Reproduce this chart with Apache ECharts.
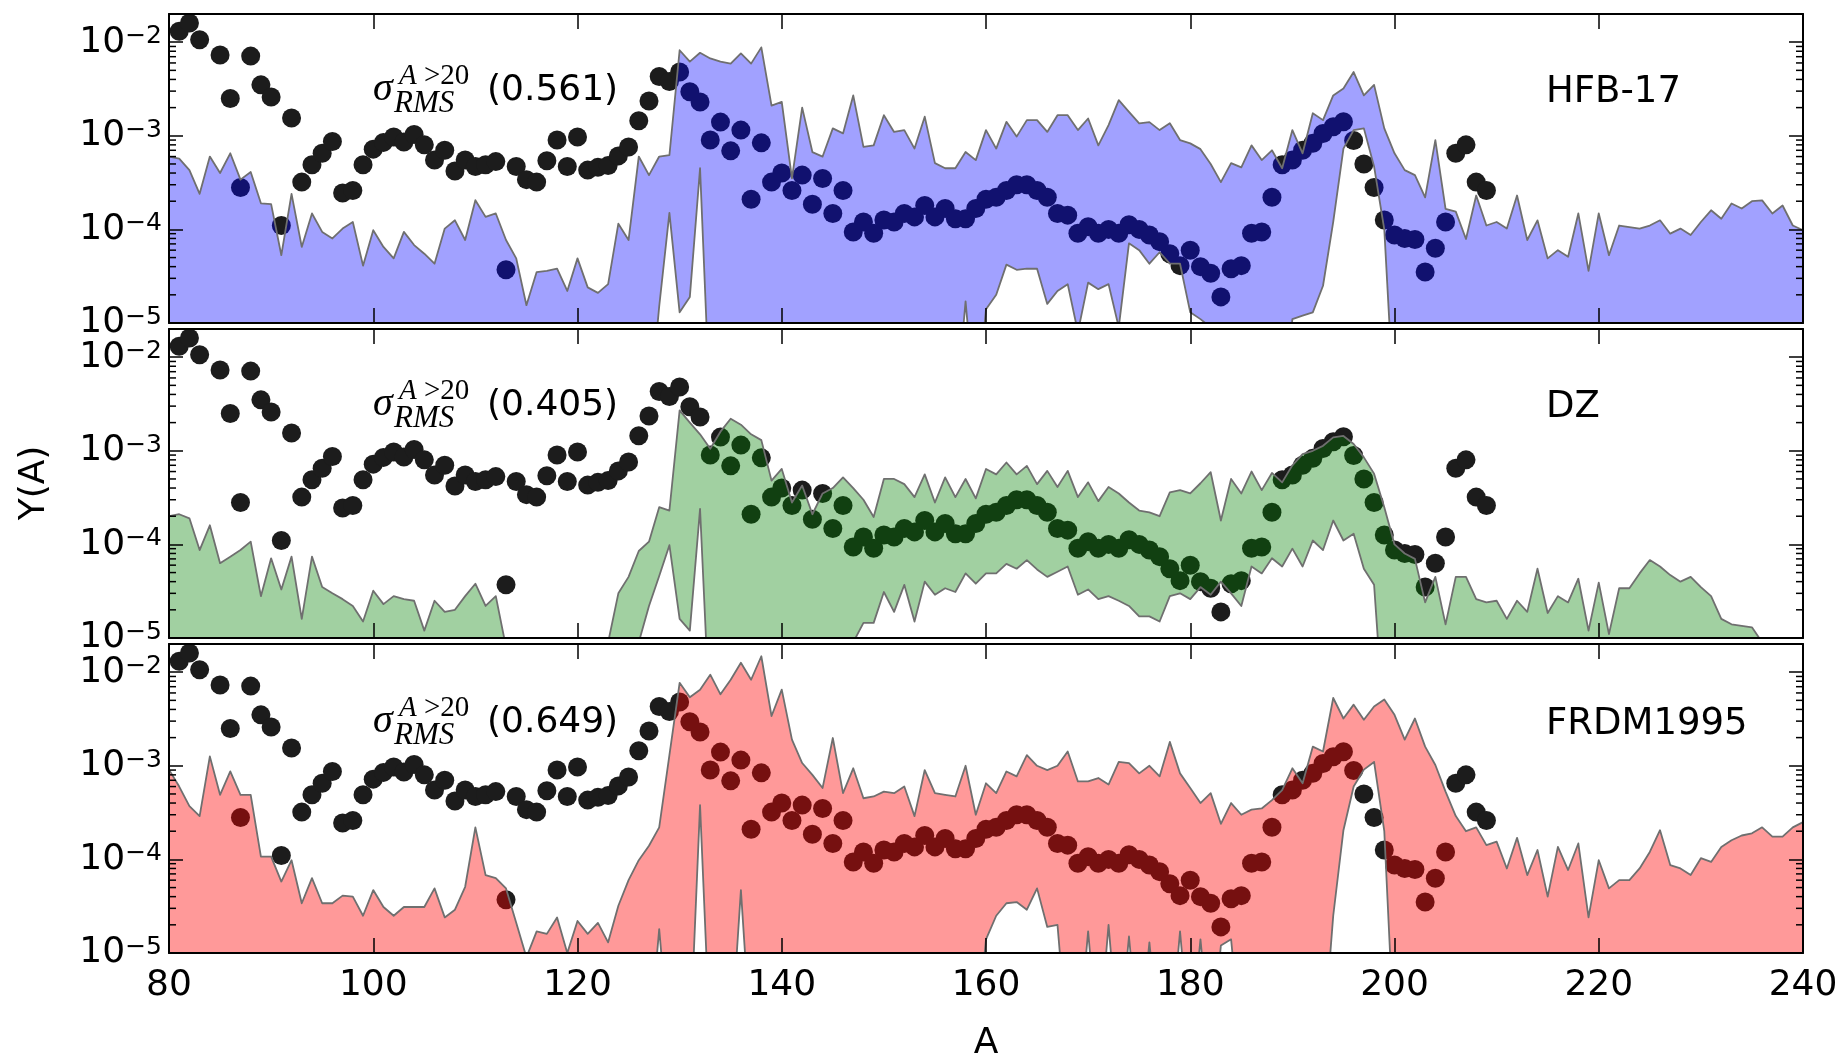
<!DOCTYPE html>
<html>
<head>
<meta charset="utf-8">
<script src="https://cdn.jsdelivr.net/npm/echarts@6/dist/echarts.min.js"></script>
<style>
html,body{margin:0;padding:0;background:#fff;}
#chart{width:1839px;height:1060px;}
</style>
</head>
<body>
<div id="chart"></div>
<script>
// ---------------- DATA ----------------
const L = 1e-6; // below the plotted range (axis floor is 1e-5)

const massA = [
  80,81,82,83,84,85,86,87,88,89,90,91,92,93,94,95,96,97,98,99,
  100,101,102,103,104,105,106,107,108,109,110,111,112,113,114,115,116,117,118,119,
  120,121,122,123,124,125,126,127,128,129,130,131,132,133,134,135,136,137,138,139,
  140,141,142,143,144,145,146,147,148,149,150,151,152,153,154,155,156,157,158,159,
  160,161,162,163,164,165,166,167,168,169,170,171,172,173,174,175,176,177,178,179,
  180,181,182,183,184,185,186,187,188,189,190,191,192,193,194,195,196,197,198,199,
  200,201,202,203,204,205,206,207,208,209,210,211,212,213,214,215,216,217,218,219,
  220,221,222,223,224,225,226,227,228,229,230,231,232,233,234,235,236,237,238,239,
  240
];

// observed solar r-process abundances (dots)
const dotA = [
  81,82,83,85,86,87,88,89,90,91,92,93,94,95,96,97,98,99,
  100,101,102,103,104,105,106,107,108,109,110,111,112,113,114,115,116,117,118,119,
  120,121,122,123,124,125,126,127,128,129,130,131,132,133,134,135,136,137,138,139,
  140,141,142,143,144,145,146,147,148,149,150,151,152,153,154,155,156,157,158,159,
  160,161,162,163,164,165,166,167,168,169,170,171,172,173,174,175,176,177,178,179,
  180,181,182,183,184,185,186,187,188,189,190,191,192,193,194,195,196,197,198,199,
  200,201,202,203,204,205,206,207,208,209
];
const dotY = [
  1.31e-2,1.6e-2,1.06e-2,7.3e-3,2.5e-3,2.8e-4,7.1e-3,3.5e-3,2.6e-3,1.1e-4,1.55e-3,3.2e-4,4.9e-4,6.5e-4,8.7e-4,2.45e-4,2.6e-4,4.9e-4,
  7.2e-4,8.5e-4,9.7e-4,8.6e-4,1.03e-3,8.0e-4,5.5e-4,7.0e-4,4.2e-4,5.5e-4,4.7e-4,4.9e-4,5.3e-4,3.7e-5,4.7e-4,3.4e-4,3.2e-4,5.4e-4,9.0e-4,4.7e-4,
  9.7e-4,4.3e-4,4.6e-4,4.8e-4,6.1e-4,7.6e-4,1.45e-3,2.35e-3,4.3e-3,3.8e-3,4.8e-3,2.95e-3,2.3e-3,9.0e-4,1.4e-3,6.9e-4,1.15e-3,2.1e-4,8.4e-4,3.2e-4,
  4.0e-4,2.6e-4,3.8e-4,1.86e-4,3.5e-4,1.48e-4,2.6e-4,9.4e-5,1.2e-4,9.1e-5,1.26e-4,1.2e-4,1.48e-4,1.36e-4,1.8e-4,1.36e-4,1.67e-4,1.3e-4,1.3e-4,1.67e-4,
  2.1e-4,2.2e-4,2.6e-4,3.0e-4,3.0e-4,2.6e-4,2.2e-4,1.48e-4,1.42e-4,9.1e-5,1.07e-4,9.1e-5,1.0e-4,9.1e-5,1.12e-4,1.0e-4,8.7e-5,7.4e-5,5.5e-5,4.1e-5,
  6.0e-5,4.0e-5,3.4e-5,1.9e-5,3.8e-5,4.1e-5,9.1e-5,9.4e-5,2.2e-4,4.9e-4,5.5e-4,7.0e-4,8.3e-4,1.06e-3,1.25e-3,1.41e-3,8.9e-4,5.0e-4,2.8e-4,1.26e-4,
  8.7e-5,8.0e-5,7.8e-5,3.5e-5,6.3e-5,1.2e-4,6.5e-4,8.0e-4,3.2e-4,2.6e-4
];

// HFB-17 band
const hfbHi = [
  6.0e-4,5.7e-4,4.3e-4,2.4e-4,6.0e-4,4.0e-4,6.5e-4,3.4e-4,4.1e-4,1.9e-4,
  1.86e-4,5.3e-5,2.4e-4,6.5e-5,1.48e-4,9.4e-5,8.0e-5,1.02e-4,1.2e-4,4.1e-5,
  9.8e-5,6.5e-5,4.9e-5,9.4e-5,6.8e-5,5.5e-5,4.3e-5,1.02e-4,1.25e-4,7.7e-5,
  2.05e-4,1.36e-4,1.48e-4,7.7e-5,4.9e-5,1.55e-5,3.5e-5,3.6e-5,3.8e-5,2.2e-5,
  4.9e-5,2.4e-5,2.1e-5,2.6e-5,1.15e-4,7.7e-5,6.0e-4,3.8e-4,6.0e-4,6.2e-4,
  8.2e-3,6.2e-3,7.7e-3,6.7e-3,6.2e-3,5.9e-3,7.6e-3,5.9e-3,8.8e-3,2.1e-3,
  2.3e-3,3.5e-4,2.0e-3,6.7e-4,6.0e-4,1.2e-3,1.06e-3,2.7e-3,7.6e-4,7.9e-4,
  1.66e-3,1.1e-3,1.15e-3,7.3e-4,1.6e-3,5.1e-4,4.5e-4,4.5e-4,6.7e-4,5.5e-4,
  1.15e-3,7.3e-4,1.41e-3,9.8e-4,1.47e-3,1.47e-3,1.1e-3,1.66e-3,1.66e-3,1.15e-3,
  1.53e-3,7.9e-4,1.3e-3,2.4e-3,1.8e-3,1.36e-3,1.4e-3,1.15e-3,1.36e-3,9.0e-4,
  8.3e-4,7.2e-4,5.0e-4,3.2e-4,5.1e-4,4.6e-4,7.9e-4,5.5e-4,7.0e-4,4.5e-4,
  1.15e-3,6.5e-4,1.74e-3,1.47e-3,2.7e-3,3.2e-3,4.8e-3,2.7e-3,3.5e-3,1.2e-3,
  6.5e-4,4.3e-4,3.8e-4,2.2e-4,9.0e-4,1.66e-4,1.55e-4,7.9e-5,2.3e-4,1.1e-4,
  1.2e-4,1.02e-4,2.3e-4,7.7e-5,1.25e-4,4.9e-5,6.0e-5,5.1e-5,1.48e-4,3.6e-5,
  1.48e-4,5.3e-5,1.1e-4,1.06e-4,1.02e-4,1.1e-4,1.25e-4,9.0e-5,1.02e-4,8.7e-5,
  1.2e-4,1.6e-4,1.3e-4,1.89e-4,1.67e-4,2.0e-4,2.04e-4,1.48e-4,1.8e-4,1.1e-4,
  9.8e-5
];
const hfbLo = [
  L,L,L,L,L,L,L,L,L,L,
  L,L,L,L,L,L,L,L,L,L,
  L,L,L,L,L,L,L,L,L,L,
  L,L,L,L,L,L,L,L,L,L,
  L,L,L,L,L,L,L,L,1.5e-5,1.5e-4,
  1.3e-5,1.9e-5,4.5e-4,L,L,L,L,L,L,L,
  L,L,L,L,L,L,L,L,L,L,
  L,L,L,L,L,L,L,L,1.7e-5,L,
  1.4e-5,2.0e-5,4.2e-5,3.7e-5,3.8e-5,3.8e-5,1.6e-5,2.2e-5,2.6e-5,8e-6,
  2.7e-5,2.3e-5,2.6e-5,9e-6,7.1e-5,6.0e-5,4.3e-5,5.7e-5,4.3e-5,4.3e-5,
  1.3e-5,1.1e-5,9e-6,L,L,L,L,L,L,L,
  1.1e-5,1.2e-5,1.3e-5,2.5e-5,1.2e-4,7.3e-4,1.15e-3,1.2e-3,4.7e-4,1.0e-4,
  L,L,L,L,L,L,L,L,L,L,
  L,L,L,L,L,L,L,L,L,L,
  L,L,L,L,L,L,L,L,L,L,
  L,L,L,L,L,L,L,L,L,L,
  L
];

// DZ band
const dzHi = [
  2.0e-4,2.1e-4,1.9e-4,8.7e-5,1.6e-4,6.3e-5,7.4e-5,8.7e-5,1.07e-4,2.8e-5,
  7.1e-5,3.3e-5,7.4e-5,1.6e-5,7.4e-5,3.5e-5,3.0e-5,2.6e-5,2.2e-5,1.5e-5,
  3.2e-5,2.3e-5,2.8e-5,2.6e-5,2.5e-5,1.2e-5,2.5e-5,1.9e-5,2.0e-5,2.8e-5,
  3.8e-5,2.2e-5,2.8e-5,8e-6,L,L,L,L,L,L,
  L,L,L,9e-6,3.0e-5,4.5e-5,8.5e-5,1.07e-4,2.5e-4,2.3e-4,
  2.7e-3,2.0e-3,1.5e-3,1.05e-3,1.6e-3,2.2e-3,1.9e-3,1.5e-3,1.3e-3,4.8e-4,
  6.4e-4,2.8e-4,4.25e-4,2.1e-4,3.5e-4,4.0e-4,5.2e-4,4.0e-4,3.0e-4,1.96e-4,
  5.0e-4,5.0e-4,4.4e-4,3.2e-4,5.6e-4,2.8e-4,5.2e-4,3.2e-4,5.0e-4,3.1e-4,
  6.4e-4,5.6e-4,7.5e-4,5.6e-4,6.9e-4,4.4e-4,6.1e-4,4.1e-4,6.1e-4,3.2e-4,
  4.6e-4,2.9e-4,4.1e-4,3.5e-4,2.8e-4,2.3e-4,2.2e-4,2.0e-4,3.6e-4,3.8e-4,
  3.5e-4,4.5e-4,5.9e-4,1.8e-4,5.0e-4,3.5e-4,6.0e-4,3.8e-4,5.8e-4,4.6e-4,
  7.0e-4,9.2e-4,1.0e-3,1.13e-3,1.39e-3,1.44e-3,1.18e-3,8.5e-4,5.7e-4,2.5e-4,
  1.0e-4,8.0e-5,7.0e-5,2.4e-5,4.5e-5,1.4e-5,4.5e-5,4.5e-5,2.6e-5,2.4e-5,
  2.5e-5,1.6e-5,2.5e-5,1.9e-5,5.5e-5,1.85e-5,2.8e-5,2.4e-5,4.3e-5,1.2e-5,
  3.9e-5,1.1e-5,3.4e-5,3.4e-5,4.9e-5,6.8e-5,5.8e-5,4.7e-5,4.0e-5,4.5e-5,
  3.5e-5,2.8e-5,1.6e-5,1.4e-5,1.35e-5,1.3e-5,9e-6,L,L,L,
  L
];
const dzLo = [
  L,L,L,L,L,L,L,L,L,L,
  L,L,L,L,L,L,L,L,L,L,
  L,L,L,L,L,L,L,L,L,L,
  L,L,L,L,L,L,L,L,L,L,
  L,L,L,L,L,L,9e-6,2.2e-5,4.6e-5,9.8e-5,
  1.6e-5,1.2e-5,2.4e-4,L,L,L,L,L,L,L,
  L,L,L,L,L,L,L,9e-6,1.45e-5,1.45e-5,
  3.1e-5,1.9e-5,3.7e-5,1.5e-5,4.0e-5,2.9e-5,3.4e-5,3.1e-5,4.9e-5,3.8e-5,
  4.9e-5,4.9e-5,6.2e-5,5.5e-5,6.8e-5,5.4e-5,4.5e-5,5.1e-5,5.8e-5,2.9e-5,
  3.3e-5,2.6e-5,2.8e-5,2.5e-5,2.2e-5,1.7e-5,1.7e-5,1.5e-5,2.8e-5,3.0e-5,
  2.6e-5,3.5e-5,2.9e-5,4.0e-5,3.0e-5,2.2e-5,5.8e-5,4.9e-5,7.1e-5,5.8e-5,
  9.0e-5,5.8e-5,1.1e-4,8.7e-5,1.8e-4,1.1e-4,1.3e-4,5.5e-5,3.7e-5,L,
  L,L,L,L,L,L,L,L,L,L,
  L,L,L,L,L,L,L,L,L,L,
  L,L,L,L,L,L,L,L,L,L,
  L,L,L,L,L,L,L,L,L,L,
  L
];

// FRDM1995 band
const frdmHi = [
  9.1e-4,6.0e-4,3.7e-4,2.9e-4,1.26e-3,4.9e-4,8.7e-4,4.9e-4,4.9e-4,1.07e-4,
  1.07e-4,5.8e-5,9.8e-5,3.4e-5,6.3e-5,3.4e-5,3.4e-5,4.1e-5,4.0e-5,2.5e-5,
  4.7e-5,3.1e-5,2.5e-5,3.1e-5,3.1e-5,3.1e-5,4.9e-5,2.4e-5,2.9e-5,5.1e-5,
  2.2e-4,6.8e-5,6.3e-5,4.9e-5,2.1e-5,9e-6,1.7e-5,1.6e-5,2.4e-5,1.0e-5,
  2.2e-5,1.6e-5,2.1e-5,1.3e-5,3.2e-5,6.0e-5,9.8e-5,1.4e-4,2.2e-4,1.3e-3,
  7.7e-3,5.4e-3,6.5e-3,9.4e-3,5.8e-3,8.3e-3,1.26e-2,8.3e-3,1.48e-2,3.4e-3,
  6.5e-3,1.9e-3,1.07e-3,8.0e-4,5.8e-4,1.98e-3,5.1e-4,9.4e-4,4.5e-4,4.7e-4,
  5.3e-4,5.1e-4,6.0e-4,2.9e-4,9.0e-4,5.1e-4,4.9e-4,4.7e-4,1.0e-3,3.0e-4,
  6.5e-4,5.1e-4,8.7e-4,7.7e-4,1.3e-3,1.0e-3,9.0e-4,1.0e-3,1.42e-3,6.8e-4,
  6.8e-4,7.4e-4,6.3e-4,1.1e-3,1.07e-3,8.3e-4,1.0e-3,7.7e-4,1.8e-3,8.3e-4,
  5.8e-4,4.0e-4,5.1e-4,2.4e-4,4.0e-4,3.0e-4,3.4e-4,3.5e-4,4.3e-4,5.5e-4,
  9.4e-4,6.5e-4,1.6e-3,1.42e-3,5.3e-3,3.2e-3,4.5e-3,3.1e-3,4.3e-3,5.1e-3,
  3.5e-3,1.9e-3,3.2e-3,1.6e-3,1.02e-3,5.3e-4,2.9e-4,2.0e-4,2.2e-4,1.42e-4,
  1.55e-4,8.0e-5,1.7e-4,6.8e-5,1.26e-4,4.0e-5,1.36e-4,7.7e-5,1.48e-4,2.4e-5,
  9.8e-5,4.9e-5,6.0e-5,6.0e-5,8.0e-5,1.2e-4,2.05e-4,8.7e-5,8.0e-5,6.8e-5,
  1.03e-4,9.4e-5,1.36e-4,1.6e-4,1.8e-4,1.9e-4,2.2e-4,1.75e-4,1.75e-4,2.2e-4,
  2.5e-4
];
const frdmLo = [
  L,L,L,L,L,L,L,L,L,L,
  L,L,L,L,L,L,L,L,L,L,
  L,L,L,L,L,L,L,L,L,L,
  L,L,L,L,L,L,L,L,L,L,
  L,L,L,L,L,L,L,L,1.8e-5,L,
  L,L,3.8e-4,L,L,L,4.7e-5,L,L,L,
  L,L,L,L,L,L,L,L,L,L,
  L,L,L,L,L,L,L,L,L,L,
  1.4e-5,2.5e-5,3.4e-5,3.5e-5,2.9e-5,4.9e-5,1.9e-5,2.0e-5,L,L,
  1.7e-5,L,2.0e-5,L,1.5e-5,L,1.3e-5,L,L,1.7e-5,
  L,1.4e-5,L,1.2e-5,1.4e-5,L,L,L,L,L,
  L,L,L,L,2.5e-5,2.05e-4,6.0e-4,9.1e-4,1.1e-3,2.0e-4,
  L,L,L,L,L,L,L,L,L,L,
  L,L,L,L,L,L,L,L,L,L,
  L,L,L,L,L,L,L,L,L,L,
  L,L,L,L,L,L,L,L,L,L,
  L
];

const modelNames = ['HFB-17', 'DZ', 'FRDM1995'];
const rmsValues = ['0.561', '0.405', '0.649'];
const bandHi = [hfbHi, dzHi, frdmHi];
const bandLo = [hfbLo, dzLo, frdmLo];

const xTickValues = [80, 100, 120, 140, 160, 180, 200, 220, 240];
const xTickLabels = ['80', '100', '120', '140', '160', '180', '200', '220', '240'];
const yTickValues = [1e-5, 1e-4, 1e-3, 1e-2];
const yTickExponents = ['\u22125', '\u22124', '\u22123', '\u22122'];
const yMinorTicks = [
  2e-5,3e-5,4e-5,5e-5,6e-5,7e-5,8e-5,9e-5,
  2e-4,3e-4,4e-4,5e-4,6e-4,7e-4,8e-4,9e-4,
  2e-3,3e-3,4e-3,5e-3,6e-3,7e-3,8e-3,9e-3
];

// ---------------- STYLE / LAYOUT ----------------
const bandFill = ['rgba(0,0,255,0.37)', 'rgba(0,128,0,0.37)', 'rgba(255,0,0,0.40)'];
const DOT = '#1c1c1c';
const EDGE = '#6f6f6f';
const FONT = '"DejaVu Sans", sans-serif';
const SERIF = '"Liberation Serif", "DejaVu Serif", serif';
const GRID_LEFT = 169, GRID_W = 1634, GRID_H = 309;
const GRID_TOPS = [14, 329, 644];
const LABEL_DY = [0, 315, 632];

const chart = echarts.init(document.getElementById('chart'), null, {renderer: 'canvas'});

const grids = GRID_TOPS.map(t => ({
  left: GRID_LEFT, top: t, width: GRID_W, height: GRID_H,
  containLabel: false, outerBoundsMode: 'none', show: false
}));

const xAxes = [];
const yAxes = [];
for (let i = 0; i < 3; i++) {
  xAxes.push({
    type: 'value', gridIndex: i, min: 80, max: 240, interval: 20, position: 'bottom', z: 10,
    axisLine: {show: true, onZero: false, lineStyle: {color: '#000', width: 2}},
    axisTick: {show: true, inside: true, length: 15, lineStyle: {color: '#000', width: 1.5}},
    axisLabel: {
      show: i === 2, margin: 15, color: '#000', fontFamily: FONT, fontSize: 36,
      formatter: v => { const k = xTickValues.indexOf(v); return k >= 0 ? xTickLabels[k] : ''; }
    },
    splitLine: {show: false}
  });
  yAxes.push({
    type: 'log', logBase: 10, gridIndex: i, min: 1e-5, max: 0.02, position: 'left', z: 10,
    axisLine: {show: true, onZero: false, lineStyle: {color: '#000', width: 2}},
    axisTick: {show: true, inside: true, length: 14, lineStyle: {color: '#000', width: 1.5}},
    axisLabel: {
      show: true, margin: 7, color: '#000', fontFamily: FONT, fontSize: 36,
      formatter: v => {
        for (let k = 0; k < yTickValues.length; k++) {
          if (Math.abs(Math.log10(v) - Math.log10(yTickValues[k])) < 1e-6) {
            return '{b|10}{s|' + yTickExponents[k] + '}';
          }
        }
        return '';
      },
      rich: {
        b: {fontFamily: FONT, fontSize: 36, color: '#000', lineHeight: 36},
        s: {fontFamily: FONT, fontSize: 25, color: '#000', lineHeight: 4, verticalAlign: 'top'}
      }
    },
    splitLine: {show: false}
  });
}
for (let i = 0; i < 3; i++) {
  xAxes.push({
    type: 'value', gridIndex: i, min: 80, max: 240, interval: 20, position: 'top', z: 10,
    axisLine: {show: true, onZero: false, lineStyle: {color: '#000', width: 2}},
    axisTick: {show: true, inside: true, length: 15, lineStyle: {color: '#000', width: 1.5}},
    axisLabel: {show: false}, splitLine: {show: false}
  });
  yAxes.push({
    type: 'log', logBase: 10, gridIndex: i, min: 1e-5, max: 0.02, position: 'right', z: 10,
    axisLine: {show: true, onZero: false, lineStyle: {color: '#000', width: 2}},
    axisTick: {show: true, inside: true, length: 14, lineStyle: {color: '#000', width: 1.5}},
    axisLabel: {show: false}, splitLine: {show: false}
  });
}

function bandRenderer(fill) {
  return function (params, api) {
    if (params.dataIndex !== 0) return null;
    const n = params.dataInsideLength;
    const up = [], dn = [];
    for (let k = 0; k < n; k++) {
      const a = api.value(0, k);
      up.push(api.coord([a, api.value(2, k)]));
      dn.push(api.coord([a, api.value(1, k)]));
    }
    const poly = up.concat(dn.slice().reverse());
    const cs = params.coordSys;
    return {
      type: 'group',
      clipPath: {type: 'rect', shape: {x: cs.x, y: cs.y, width: cs.width, height: cs.height}},
      children: [
        {type: 'polygon', shape: {points: poly}, style: {fill: fill, stroke: null}},
        {type: 'polyline', shape: {points: up}, style: {fill: null, stroke: EDGE, lineWidth: 1.8, lineJoin: 'round'}},
        {type: 'polyline', shape: {points: dn}, style: {fill: null, stroke: EDGE, lineWidth: 1.8, lineJoin: 'round'}}
      ]
    };
  };
}

const series = [];
for (let i = 0; i < 3; i++) {
  const hi = bandHi[i], lo = bandLo[i];
  // observed points (drawn under the translucent band)
  series.push({
    type: 'scatter', xAxisIndex: i, yAxisIndex: i, z: 2, silent: true,
    symbol: 'circle', symbolSize: 19,
    itemStyle: {color: DOT, opacity: 1},
    data: dotA.map((a, k) => [a, dotY[k]])
  });
  // model band (lower..upper), translucent, on top of the points
  series.push({
    type: 'custom', xAxisIndex: i, yAxisIndex: i, z: 3, silent: true,
    encode: {x: 0, y: [1, 2]},
    data: massA.map((a, k) => [a, lo[k], hi[k]]),
    renderItem: bandRenderer(bandFill[i])
  });
  // minor log ticks on both vertical spines
  series.push({
    type: 'custom', xAxisIndex: i, yAxisIndex: i, z: 11, silent: true,
    data: yMinorTicks.map(v => [80, v]),
    renderItem: (params, api) => {
      const v = api.value(1);
      const pl = api.coord([80, v]);
      const pr = api.coord([240, v]);
      return {
        type: 'group',
        children: [
          {type: 'line', shape: {x1: pl[0], y1: pl[1], x2: pl[0] + 7, y2: pl[1]}, style: {stroke: '#000', lineWidth: 1.5}},
          {type: 'line', shape: {x1: pr[0] - 7, y1: pr[1], x2: pr[0], y2: pr[1]}, style: {stroke: '#000', lineWidth: 1.5}}
        ]
      };
    }
  });
}

const graphics = [];
for (let i = 0; i < 3; i++) {
  const dy = LABEL_DY[i];
  graphics.push({type: 'text', x: 373, y: 89 + dy, z: 20,
    style: {text: '\u03c3', font: 'italic 40px ' + SERIF, fill: '#000', textAlign: 'left', textVerticalAlign: 'middle', align: 'left', verticalAlign: 'middle'}});
  graphics.push({type: 'text', x: 399, y: 76 + dy, z: 20,
    style: {text: '{i|A}{r| >20}', fill: '#000', textAlign: 'left', textVerticalAlign: 'middle', align: 'left', verticalAlign: 'middle',
      rich: {i: {font: 'italic 29px ' + SERIF, fill: '#000'}, r: {font: '29px ' + SERIF, fill: '#000'}}}});
  graphics.push({type: 'text', x: 394, y: 104 + dy, z: 20,
    style: {text: 'RMS', font: 'italic 31px ' + SERIF, fill: '#000', textAlign: 'left', textVerticalAlign: 'middle', align: 'left', verticalAlign: 'middle'}});
  graphics.push({type: 'text', x: 487, y: 91 + dy, z: 20,
    style: {text: '(' + rmsValues[i] + ')', font: '36px ' + FONT, fill: '#000', textAlign: 'left', textVerticalAlign: 'middle', align: 'left', verticalAlign: 'middle'}});
  graphics.push({type: 'text', x: 1546, y: 92 + dy, z: 20,
    style: {text: modelNames[i], font: '37px ' + FONT, fill: '#000', textAlign: 'left', textVerticalAlign: 'middle', align: 'left', verticalAlign: 'middle'}});
}
graphics.push({type: 'text', x: 986, y: 1044, z: 20,
  style: {text: 'A', font: '36px ' + FONT, fill: '#000', textAlign: 'center', textVerticalAlign: 'middle', align: 'center', verticalAlign: 'middle'}});
graphics.push({type: 'text', x: 35, y: 483, z: 20, rotation: Math.PI / 2,
  style: {text: 'Y(A)', font: '36px ' + FONT, fill: '#000', textAlign: 'center', textVerticalAlign: 'middle', align: 'center', verticalAlign: 'middle'}});

chart.setOption({
  animation: false,
  backgroundColor: '#ffffff',
  grid: grids,
  xAxis: xAxes,
  yAxis: yAxes,
  series: series,
  graphic: graphics
});
</script>
</body>
</html>
